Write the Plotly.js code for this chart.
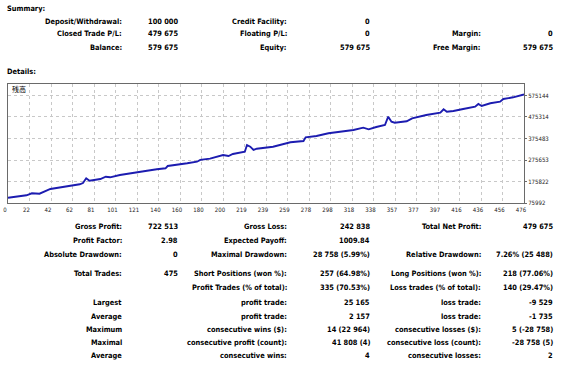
<!DOCTYPE html>
<html><head><meta charset="utf-8">
<script src="https://cdn.plot.ly/plotly-3.0.1.min.js"></script>
<style>html,body{margin:0;padding:0;background:#fff}#c{width:567px;height:373px}</style>
</head><body><div id="c"></div>
<script>
// ---- chart data ----
const trades = [0,8,17,22,29,39,49,57,66,69,72,75,85,90,94,103,115,128,137,145,147,155,165,174,177,186,198,203,207,218,220,223,226,229,244,260,272,274,278,284,295,309,318,327,332,339,347,350,353,356,367,372,385,398,401,404,410,419,430,433,436,444,453,456,465,475];
const balance = [100000,105200,111700,121000,119200,141000,148900,158100,162800,168800,190700,179500,187400,198100,195300,206000,216700,226000,232500,237100,247800,252400,260300,267700,276000,281700,298800,294200,303500,314200,345300,337400,322100,328100,337400,357800,363900,381000,383800,387100,399600,407000,414900,425600,418200,428900,438200,476700,453500,448800,455300,469200,484600,495300,511000,499900,503100,512400,523100,535600,526300,538900,546300,558900,566700,579675];
const xTickLabels = ['0','22','42','62','81','101','121','140','160','180','200','219','239','259','278','298','318','338','357','377','397','416','436','456','476'];
const yTickVals = [75992,175822,275653,375483,475314,575144];
const chartLabel = '残高';

// ---- report texts ----
const summaryLabels1 = ['Deposit/Withdrawal:','Closed Trade P/L:','Balance:'];
const summaryValues1 = ['100 000','479 675','579 675'];
const summaryLabels2 = ['Credit Facility:','Floating P/L:','Equity:'];
const summaryValues2 = ['0','0','579 675'];
const summaryLabels3 = ['','Margin:','Free Margin:'];
const summaryValues3 = ['','0','579 675'];

const detailLabels1 = ['Gross Profit:','Profit Factor:','Absolute Drawdown:','Total Trades:','','Largest','Average','Maximum','Maximal','Average'];
const detailValues1 = ['722 513','2.98','0','475','','','','','',''];
const detailLabels2 = ['Gross Loss:','Expected Payoff:','Maximal Drawdown:','Short Positions (won %):','Profit Trades (% of total):','profit trade:','profit trade:','consecutive wins ($):','consecutive profit (count):','consecutive wins:'];
const detailValues2 = ['242 838','1009.84','28 758 (5.99%)','257 (64.98%)','335 (70.53%)','25 165','2 157','14 (22 964)','41 808 (4)','4'];
const detailLabels3 = ['Total Net Profit:','','Relative Drawdown:','Long Positions (won %):','Loss trades (% of total):','loss trade:','loss trade:','consecutive losses ($):','consecutive loss (count):','consecutive losses:'];
const detailValues3 = ['479 675','','7.26% (25 488)','218 (77.06%)','140 (29.47%)','-9 529','-1 735','5 (-28 758)','-28 758 (5)','2'];

// ---- layout helpers ----
const W = 567, H = 373;
const PL = 8, PR = 524, PT = 84, PB = 203;
const px = x => (x - PL) / (PR - PL);
const py = y => (PB - y) / (PB - PT);
const FONT = 'DejaVu Sans Condensed, DejaVu Sans, sans-serif';
const ann = [];
function txt(t, x, y, anchor) {
  if (!t) return;
  ann.push({text: '<b>' + t + '</b>', xref: 'paper', yref: 'paper', x: px(x), y: py(y),
    xanchor: anchor, yanchor: 'middle', showarrow: false,
    font: {family: FONT, size: 7.4, color: '#000'}});
}
txt('Summary:', 5, 8, 'left');
txt('Details:', 5, 71, 'left');
const sumRows = [21, 34, 47];
sumRows.forEach((y, i) => {
  txt(summaryLabels1[i], 124, y, 'right');
  txt(summaryValues1[i], 180, y, 'right');
  txt(summaryLabels2[i], 289, y, 'right');
  txt(summaryValues2[i], 372, y, 'right');
  txt(summaryLabels3[i], 483, y, 'right');
  txt(summaryValues3[i], 555, y, 'right');
});
const detRows = [226.5, 240, 254, 273.5, 287, 302.5, 316, 329, 342.5, 355.5];
detRows.forEach((y, i) => {
  txt(detailLabels1[i], 124, y, 'right');
  txt(detailValues1[i], 180, y, 'right');
  txt(detailLabels2[i], 289, y, 'right');
  txt(detailValues2[i], 372, y, 'right');
  txt(detailLabels3[i], 483, y, 'right');
  txt(detailValues3[i], 555, y, 'right');
});
ann.push({text: chartLabel, xref: 'paper', yref: 'paper', x: px(10), y: py(88.5),
  xanchor: 'left', yanchor: 'middle', showarrow: false,
  font: {family: 'Noto Sans CJK JP', size: 7, color: '#000'}});

const nT = xTickLabels.length - 1;
const xTickVals = xTickLabels.map((_, k) => k * 475 / nT);

const trace = {x: trades, y: balance, type: 'scatter', mode: 'lines',
  line: {color: '#1c1cb0', width: 1.9}, hoverinfo: 'skip'};

const layout = {
  width: W, height: H,
  margin: {l: PL, r: W - PR, t: PT, b: H - PB, pad: 0},
  paper_bgcolor: '#fff', plot_bgcolor: '#fff',
  showlegend: false,
  xaxis: {range: [0, 475], tickvals: xTickVals, ticktext: xTickLabels,
    showgrid: true, gridcolor: '#c8c8c8', griddash: '3px,3px', gridwidth: 1,
    showline: true, mirror: true, linecolor: '#6a6a6a', linewidth: 1,
    zeroline: false, ticks: '', ticklabelshift: -3, ticklabelstandoff: 1,
    tickfont: {family: FONT, size: 6, color: '#222'}, fixedrange: true},
  yaxis: {range: [75992, 628500], side: 'right', tickvals: yTickVals,
    ticktext: yTickVals.map(String),
    showgrid: true, gridcolor: '#c8c8c8', griddash: '3px,3px', gridwidth: 1,
    showline: true, mirror: true, linecolor: '#6a6a6a', linewidth: 1,
    zeroline: false, ticks: 'outside', ticklen: 2, tickcolor: '#6a6a6a',
    tickfont: {family: FONT, size: 6, color: '#222'}, fixedrange: true},
  annotations: ann
};
Plotly.newPlot('c', [trace], layout, {staticPlot: true, displayModeBar: false});
</script></body></html>
